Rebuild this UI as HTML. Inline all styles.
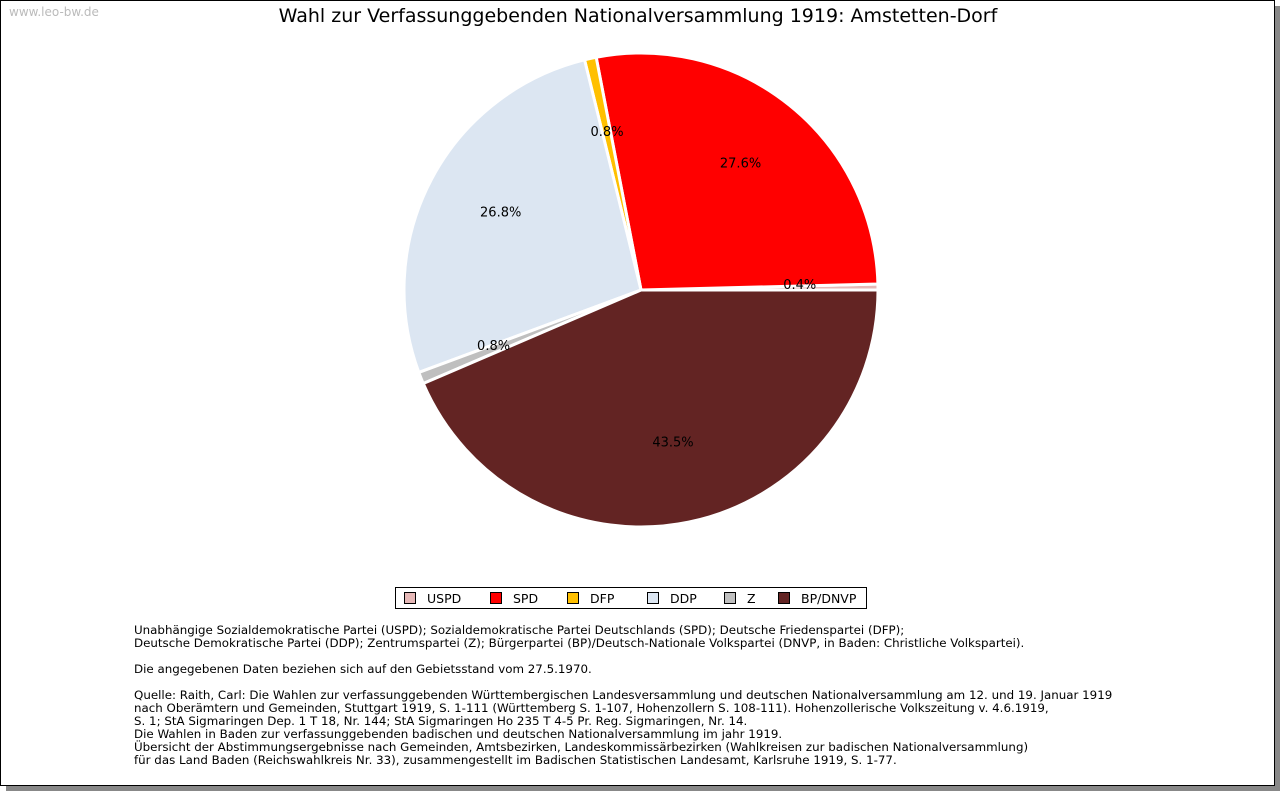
<!DOCTYPE html>
<html><head><meta charset="utf-8"><style>
body{margin:0;background:#fff;width:1280px;height:791px;overflow:hidden;font-family:"DejaVu Sans","Liberation Sans",sans-serif}
#frame{position:absolute;left:0;top:0;width:1273px;height:784px;border:1px solid #000;background:#fff;box-shadow:6px 6px 0 #888}
#wm{position:absolute;left:8px;top:4px;font-size:12px;color:#bbb}
#title{position:absolute;left:0;width:1274px;top:4px;text-align:center;font-size:19px;color:#000}
#legend{position:absolute;left:394px;top:586px;width:470px;height:20px;border:1px solid #000;font-size:12.5px}
.li{position:absolute;top:3px}
.sw{display:inline-block;width:10px;height:10px;border:1px solid #000;vertical-align:-1px;margin-right:11px}
#notes{position:absolute;left:133px;top:623px;font-size:11.85px;line-height:13px;color:#000;white-space:pre}
</style></head><body>
<div id="frame">
<div id="wm">www.leo-bw.de</div>
<div id="title">Wahl zur Verfassunggebenden Nationalversammlung 1919: Amstetten-Dorf</div>
<svg id="pie" width="1274" height="580" style="position:absolute;left:0;top:0"></svg>
<div id="legend"></div>
<div id="notes">Unabhängige Sozialdemokratische Partei (USPD); Sozialdemokratische Partei Deutschlands (SPD); Deutsche Friedenspartei (DFP);
Deutsche Demokratische Partei (DDP); Zentrumspartei (Z); Bürgerpartei (BP)/Deutsch-Nationale Volkspartei (DNVP, in Baden: Christliche Volkspartei).

Die angegebenen Daten beziehen sich auf den Gebietsstand vom 27.5.1970.

Quelle: Raith, Carl: Die Wahlen zur verfassunggebenden Württembergischen Landesversammlung und deutschen Nationalversammlung am 12. und 19. Januar 1919
nach Oberämtern und Gemeinden, Stuttgart 1919, S. 1-111 (Württemberg S. 1-107, Hohenzollern S. 108-111). Hohenzollerische Volkszeitung v. 4.6.1919,
S. 1; StA Sigmaringen Dep. 1 T 18, Nr. 144; StA Sigmaringen Ho 235 T 4-5 Pr. Reg. Sigmaringen, Nr. 14.
Die Wahlen in Baden zur verfassunggebenden badischen und deutschen Nationalversammlung im jahr 1919.
Übersicht der Abstimmungsergebnisse nach Gemeinden, Amtsbezirken, Landeskommissärbezirken (Wahlkreisen zur badischen Nationalversammlung)
für das Land Baden (Reichswahlkreis Nr. 33), zusammengestellt im Badischen Statistischen Landesamt, Karlsruhe 1919, S. 1-77.</div>
</div>
<script>
const parties=["USPD","SPD","DFP","DDP","Z","BP/DNVP"];
const shares=[0.4,27.6,0.8,26.8,0.8,43.5];
const colors=["#e6b8b7","#ff0000","#ffc000","#dce6f2","#bfbfbf","#632423"];
const NS="http://www.w3.org/2000/svg";
const svg=document.getElementById('pie');
const cx=640,cy=289,r=237;
const total=shares.reduce((a,b)=>a+b,0);
let acc=0;
shares.forEach((v,i)=>{
  const a0=acc/total*2*Math.PI, a1=(acc+v)/total*2*Math.PI; acc+=v;
  const x0=cx+r*Math.cos(a0),y0=cy-r*Math.sin(a0),x1=cx+r*Math.cos(a1),y1=cy-r*Math.sin(a1);
  const p=document.createElementNS(NS,'path');
  p.setAttribute('d',`M${cx},${cy}L${x0},${y0}A${r},${r} 0 ${(a1-a0)>Math.PI?1:0} 0 ${x1},${y1}Z`);
  p.setAttribute('fill',colors[i]);p.setAttribute('stroke','#fff');p.setAttribute('stroke-width','3');
  
  
  svg.appendChild(p);
});
acc=0;
shares.forEach((v,i)=>{
  const am=(acc+v/2)/total*2*Math.PI; acc+=v;
  const t=document.createElementNS(NS,'text');
  t.setAttribute('x',cx+0.67*r*Math.cos(am));t.setAttribute('y',cy-0.67*r*Math.sin(am)+1);
  t.setAttribute('text-anchor','middle');t.setAttribute('font-size','13');
  t.setAttribute('font-family','DejaVu Sans, Liberation Sans, sans-serif');
  t.textContent=v.toFixed(1)+'%';
  
  
  svg.appendChild(t);
});
const lg=document.getElementById('legend');
const lpos=[8,94,171,251,328,382];
parties.forEach((p,i)=>{
  const d=document.createElement('div');d.className='li';
  d.style.left=lpos[i]+'px';
  d.innerHTML=`<span class="sw" style="background:${colors[i]}"></span>${p}`;
  
  
  lg.appendChild(d);
});
</script>
</body></html>
